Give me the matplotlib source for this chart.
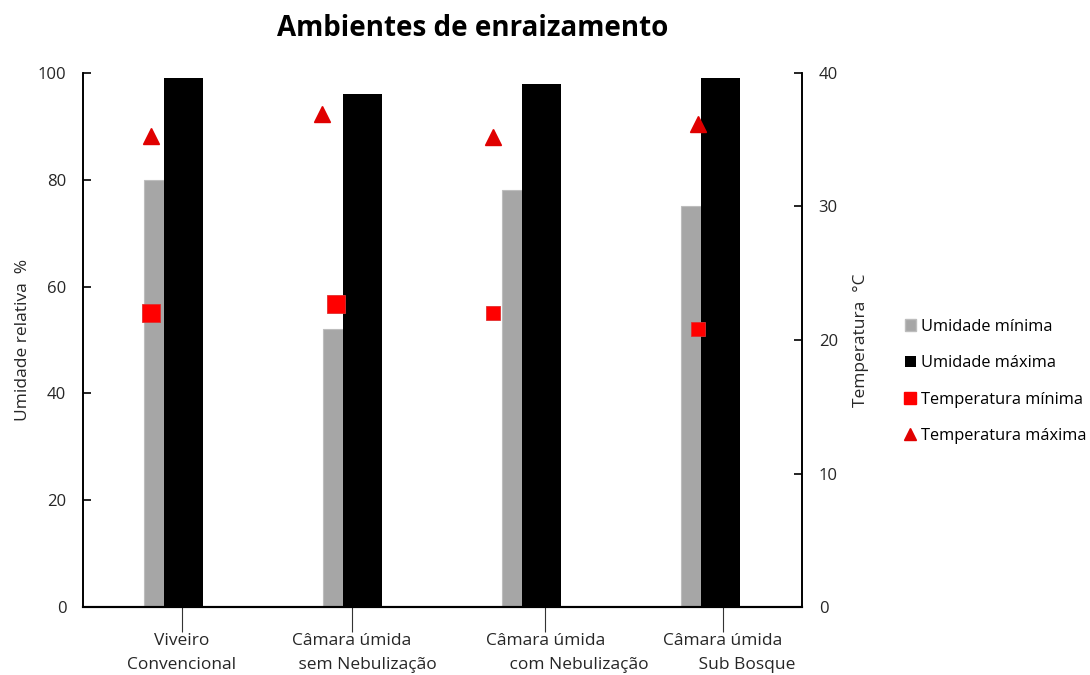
import matplotlib
matplotlib.use('Agg')
import matplotlib.pyplot as plt
from matplotlib.lines import Line2D
from matplotlib.patches import Patch
import numpy as np

plt.rcParams['font.family'] = ['Open Sans', 'DejaVu Sans']

# dados
ambientes = ['Viveiro\nConvencional',
             'Câmara úmida\n       sem Nebulização',
             'Câmara úmida\n               com Nebulização',
             'Câmara úmida\n           Sub Bosque']
umid_min = [80, 52, 78, 75]
umid_max = [99, 96, 98, 99]
temp_min = [22.0, 22.7, 22.0, 20.8]
temp_max = [35.3, 36.9, 35.2, 36.2]

# posicoes dos marcadores e dos rotulos (em unidades do eixo x)
tmin_dx = [-0.073, -0.039, -0.162, -0.017]
tmax_dx = [-0.073, -0.117, -0.162, -0.017]
tmin_size = [13, 13, 10.5, 10.5]
label_pos = [0.10, 1.05, 2.13, 3.12]

x = np.arange(len(ambientes))

fig = plt.figure(figsize=(10.9, 6.75), dpi=100)
ax = fig.add_axes([0.0761, 0.1007, 0.6597, 0.7912])
ax2 = ax.twinx()

ax.bar(x, umid_min, width=-0.11, align='edge', color='#a6a6a6',
       edgecolor='#bdbdbd', linewidth=0.8, zorder=2)
ax.bar(x, umid_max, width=0.22, align='edge', color='#000000', zorder=2)

for i in range(len(x)):
    ax2.plot(x[i] + tmin_dx[i], temp_min[i], 's', color='#ff0000',
             markeredgecolor='#e03030', markeredgewidth=0.6,
             markersize=tmin_size[i], zorder=4)
    ax2.plot(x[i] + tmax_dx[i], temp_max[i], '^', color='#e00000',
             markeredgecolor='#e00000', markersize=11, zorder=4)

ax.set_xlim(-0.453, 3.564)
ax.set_ylim(0, 100)
ax2.set_ylim(0, 40)
ax.set_yticks([0, 20, 40, 60, 80, 100])
ax2.set_yticks([0, 10, 20, 30, 40])

ax.set_xticks(label_pos)
ax.set_xticklabels(ambientes, fontsize=12.5, color='#262626',
                   linespacing=1.6)
ax.tick_params(axis='x', direction='out', length=18, width=0.8,
               color='#333333', pad=1)
ax.tick_params(axis='y', direction='in', length=6, width=1.2,
               labelsize=12, pad=12, colors='black')
ax2.tick_params(axis='y', direction='in', length=6, width=1.2,
                labelsize=12, pad=12, colors='black')
for lab in ax.get_yticklabels() + ax2.get_yticklabels():
    lab.set_color('#262626')

for a in (ax, ax2):
    a.spines['top'].set_visible(False)
    a.spines['left'].set_linewidth(1.2)
    a.spines['right'].set_linewidth(1.2)
    a.spines['bottom'].set_linewidth(1.5)

ax.set_ylabel('Umidade relativa  %', fontsize=12.5, color='#262626',
              labelpad=5)
ax2.set_ylabel('Temperatura  °C', fontsize=12.5, color='#262626',
               labelpad=11)

fig.text(0.434, 0.958, 'Ambientes de enraizamento', fontsize=20,
         fontweight='bold', ha='center', va='center')

handles = [Patch(facecolor='#a6a6a6', edgecolor='#bdbdbd'),
           Patch(facecolor='#000000'),
           Line2D([], [], marker='s', linestyle='none', color='#ff0000',
                  markersize=8),
           Line2D([], [], marker='^', linestyle='none', color='#e00000',
                  markersize=8)]
labels = ['Umidade mínima', 'Umidade máxima',
          'Temperatura mínima', 'Temperatura máxima']
fig.legend(handles, labels, loc='center left', bbox_to_anchor=(0.824, 0.435),
           frameon=False, fontsize=11.8, handlelength=0.7, handleheight=0.7,
           handletextpad=0.3, labelspacing=1.24, borderaxespad=0)

fig.savefig('out.png', dpi=100)
